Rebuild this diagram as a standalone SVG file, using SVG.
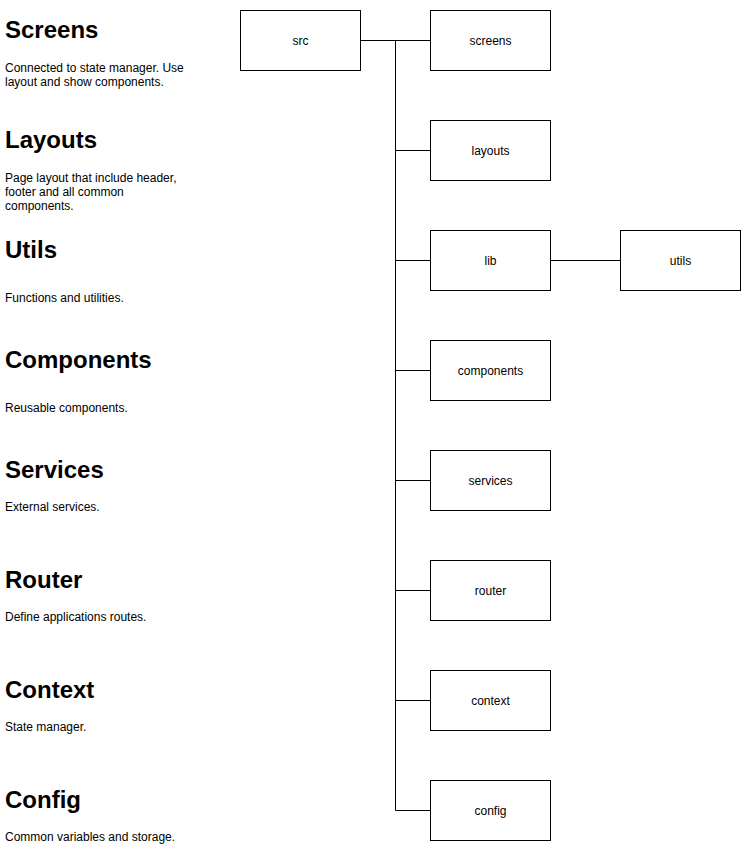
<svg xmlns="http://www.w3.org/2000/svg" width="741" height="851" viewBox="0 0 741 851">
<style>
.box{fill:#fff;stroke:#000;stroke-width:1}
.lbl{font-family:"Liberation Sans",Arial,sans-serif;font-size:12px;text-anchor:middle;fill:#000}
.h{font-family:"Liberation Sans",Arial,sans-serif;font-size:24px;font-weight:bold;fill:#000}
.d{font-family:"Liberation Sans",Arial,sans-serif;font-size:12px;fill:#000}
.ln{stroke:#000;stroke-width:1;fill:none}
</style>
<rect width="741" height="851" fill="#fff"/>
<g id="connectors">
<path class="ln" d="M360.5 40.5H430.5M395.5 40.5V810.5M395.5 150.5H430.5M395.5 260.5H430.5M395.5 370.5H430.5M395.5 480.5H430.5M395.5 590.5H430.5M395.5 700.5H430.5M395.5 810.5H430.5M550.5 260.5H620.5"/>
</g>
<g id="src"><rect class="box" x="240.5" y="10.5" width="120" height="60"/><text class="lbl" x="300.5" y="44.5">src</text></g>
<g id="screens"><rect class="box" x="430.5" y="10.5" width="120" height="60"/><text class="lbl" x="490.5" y="44.5">screens</text></g>
<g id="layouts"><rect class="box" x="430.5" y="120.5" width="120" height="60"/><text class="lbl" x="490.5" y="154.5">layouts</text></g>
<g id="lib"><rect class="box" x="430.5" y="230.5" width="120" height="60"/><text class="lbl" x="490.5" y="264.5">lib</text></g>
<g id="utils"><rect class="box" x="620.5" y="230.5" width="120" height="60"/><text class="lbl" x="680.5" y="264.5">utils</text></g>
<g id="components"><rect class="box" x="430.5" y="340.5" width="120" height="60"/><text class="lbl" x="490.5" y="374.5">components</text></g>
<g id="services"><rect class="box" x="430.5" y="450.5" width="120" height="60"/><text class="lbl" x="490.5" y="484.5">services</text></g>
<g id="router"><rect class="box" x="430.5" y="560.5" width="120" height="60"/><text class="lbl" x="490.5" y="594.5">router</text></g>
<g id="context"><rect class="box" x="430.5" y="670.5" width="120" height="60"/><text class="lbl" x="490.5" y="704.5">context</text></g>
<g id="config"><rect class="box" x="430.5" y="780.5" width="120" height="60"/><text class="lbl" x="490.5" y="814.5">config</text></g>
<g id="legend-screens"><text class="h" x="5" y="38">Screens</text><text class="d" x="5" y="72"><tspan x="5">Connected to state manager. Use</tspan><tspan x="5" dy="14">layout and show components.</tspan></text></g>
<g id="legend-layouts"><text class="h" x="5" y="148">Layouts</text><text class="d" x="5" y="182"><tspan x="5">Page layout that include header,</tspan><tspan x="5" dy="14">footer and all common</tspan><tspan x="5" dy="14">components.</tspan></text></g>
<g id="legend-utils"><text class="h" x="5" y="258">Utils</text><text class="d" x="5" y="302">Functions and utilities.</text></g>
<g id="legend-components"><text class="h" x="5" y="368">Components</text><text class="d" x="5" y="412">Reusable components.</text></g>
<g id="legend-services"><text class="h" x="5" y="478">Services</text><text class="d" x="5" y="511">External services.</text></g>
<g id="legend-router"><text class="h" x="5" y="588">Router</text><text class="d" x="5" y="621">Define applications routes.</text></g>
<g id="legend-context"><text class="h" x="5" y="698">Context</text><text class="d" x="5" y="731">State manager.</text></g>
<g id="legend-config"><text class="h" x="5" y="808">Config</text><text class="d" x="5" y="841">Common variables and storage.</text></g>
</svg>
